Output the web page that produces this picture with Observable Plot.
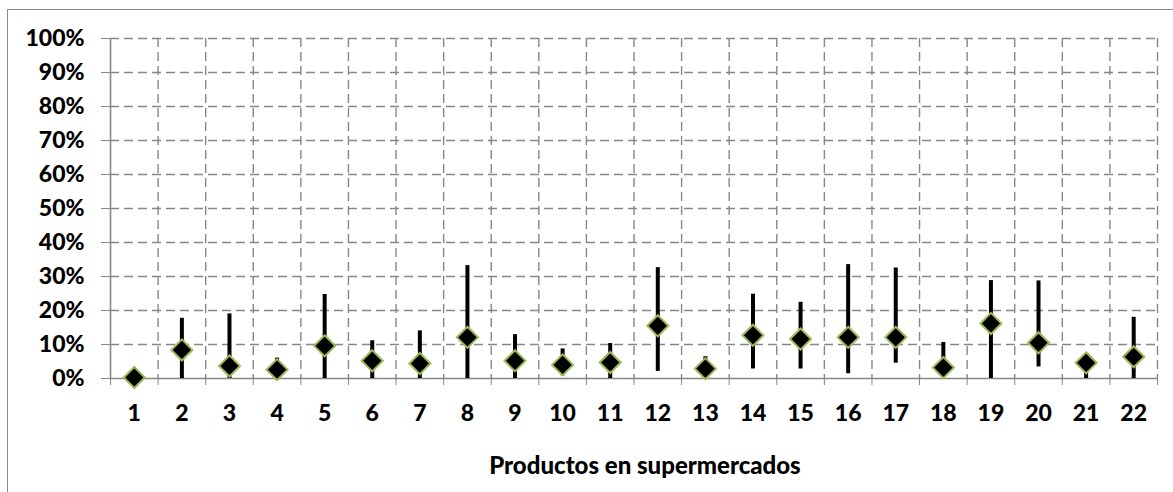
<!DOCTYPE html>
<html>
<head>
<meta charset="utf-8">
<script src="https://cdn.jsdelivr.net/npm/d3@7"></script>
<script src="https://cdn.jsdelivr.net/npm/@observablehq/plot@0.6"></script>
<style>
  html, body { margin: 0; padding: 0; background: #fff; }
  #wrap { position: relative; width: 1173px; height: 492px; overflow: hidden; font-family: Lato, "Open Sans", sans-serif; }
  #frame { position: absolute; left: 7px; top: 9px; width: 3000px; height: 3000px; border-left: 1px solid #8a8a8a; border-top: 1px solid #8a8a8a; box-sizing: border-box; }
  #chart { position: absolute; left: 0; top: 0; }
  #xtitle { position: absolute; top: 450px; left: 0; width: 1290px; text-align: center; font-weight: 900; font-size: 24px; color: #000; font-family: Lato, sans-serif; }
</style>
</head>
<body>
<div id="wrap">
  <div id="frame"></div>
  <div id="chart"></div>
  <div id="xtitle">Productos en supermercados</div>
</div>
<script>
// Data (percent)
const categories = [1,2,3,4,5,6,7,8,9,10,11,12,13,14,15,16,17,18,19,20,21,22];
const means = [0.3, 8.4, 3.7, 2.6, 9.6, 5.2, 4.4, 12.1, 5.2, 4.0, 4.7, 15.5, 2.9, 12.7, 11.6, 12.1, 12.1, 3.2, 16.2, 10.5, 4.6, 6.4];
const lows  = [0.3, 0, 0, 0, 0, 0, 0, 0, 0, 0.8, 0, 2.1, 0.5, 2.8, 2.8, 1.4, 4.5, 1.0, 0, 3.4, 0, 0];
const highs = [0.3, 17.7, 19.0, 6.0, 24.7, 11.1, 14.0, 33.2, 12.9, 8.7, 10.3, 32.6, 6.4, 24.8, 22.4, 33.5, 32.5, 10.6, 28.8, 28.7, 5.0, 18.0];
const yTicks = [0,10,20,30,40,50,60,70,80,90,100];
const xTitle = "Productos en supermercados";

const rows = categories.map((c, i) => ({cat: c, mean: means[i], low: lows[i], high: highs[i]}));
const boundaries = [categories[0] - 0.5, ...categories.map(c => c + 0.5)];

const gridStyle = {stroke: "#878787", strokeWidth: 1.4, strokeDasharray: "9,5", strokeOpacity: 1};
const axisColor = "#878787";

const chart = Plot.plot({
  width: 1173,
  height: 440,
  marginLeft: 110,
  marginRight: 16,
  marginTop: 38,
  marginBottom: 62,
  style: {fontFamily: "Lato, sans-serif", fontWeight: "900", color: "#000", background: "transparent"},
  x: {domain: [boundaries[0], boundaries[boundaries.length - 1]]},
  y: {domain: [0, 100]},
  marks: [
    Plot.ruleY(yTicks.filter(d => d > 0), gridStyle),
    Plot.ruleX(boundaries.slice(1), gridStyle),
    Plot.ruleX([boundaries[0]], {stroke: axisColor, strokeWidth: 1.6}),
    Plot.ruleY([0], {stroke: axisColor, strokeWidth: 1.6}),
    Plot.axisY({ticks: yTicks, tickFormat: d => d + "%", tickSize: 9, tickPadding: 17, label: null, stroke: axisColor, fontSize: 23, fontWeight: "900", fill: "#000"}),
    Plot.axisX({ticks: boundaries, tickFormat: () => "", tickSize: 7, label: null, stroke: axisColor}),
    Plot.axisX({ticks: categories, tickSize: 0, tickPadding: 26, label: null, fontSize: 23, fontWeight: "900", fill: "#000"}),
    Plot.ruleX(rows, {x: "cat", y1: "low", y2: "high", stroke: "#000", strokeWidth: 4}),
    Plot.dot(rows, {x: "cat", y: "mean", symbol: "diamond2", r: 9.5, fill: "#000", stroke: "#9bbb59", strokeWidth: 2})
  ]
});
document.getElementById("chart").appendChild(chart);
document.getElementById("xtitle").textContent = xTitle;
</script>
</body>
</html>
